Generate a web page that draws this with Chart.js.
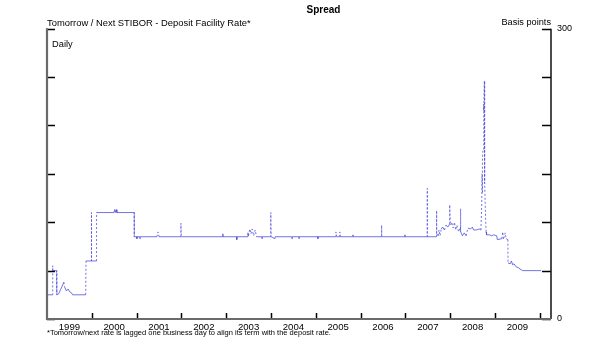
<!DOCTYPE html>
<html>
<head>
<meta charset="utf-8">
<script src="https://cdn.jsdelivr.net/npm/chart.js@4/dist/chart.umd.min.js"></script>
<style>
  html, body { margin: 0; padding: 0; background: #fff; }
  #wrap { position: relative; width: 600px; height: 356px; font-family: "Liberation Sans", Arial, sans-serif; color: #000; }
  #wrap canvas { position: absolute; left: 0; top: 0; }
  .t { position: absolute; white-space: nowrap; line-height: 11px; }
</style>
</head>
<body>
<div id="wrap">
  <canvas id="c" width="600" height="356"></canvas>
  <div class="t" style="left:47px;top:17px;font-size:9.4px;">Tomorrow / Next STIBOR - Deposit Facility Rate*</div>
  <div class="t" style="right:49px;top:17px;font-size:9.2px;">Basis points</div>
  <div class="t" style="left:52px;top:38.5px;font-size:9.3px;">Daily</div>
  <div class="t" style="left:47px;top:328px;font-size:7.5px;line-height:10px;">*Tomorrow/next rate is lagged one business day to align its term with the deposit rate.</div>
</div>
<script>
// ---- data ----
const dates = [
  '1999-01-04','1999-02-12','1999-02-15','1999-02-18','1999-03-19','1999-03-22',
  '1999-04-06','1999-04-20','1999-05-05','1999-05-18','1999-05-25','1999-06-08',
  '1999-06-22','1999-07-06','1999-07-20','1999-07-28','1999-11-12','1999-11-15',
  '1999-12-28','1999-12-29','1999-12-30','2000-02-08','2000-02-09','2000-06-30',
  '2000-07-06','2000-07-11','2000-07-18','2000-07-24','2000-12-12','2000-12-13',
  '2001-01-03','2001-01-04','2001-01-05','2001-01-26','2001-01-29','2001-01-30',
  '2001-06-15','2001-06-24','2001-07-03','2001-12-27','2001-12-28','2001-12-31',
  '2002-12-04','2002-12-05','2002-12-06','2003-03-27','2003-03-28','2003-03-31',
  '2003-06-25','2003-06-27','2003-07-02','2003-07-12','2003-07-22','2003-08-01',
  '2003-08-12','2003-08-25','2003-09-05','2003-10-17','2003-10-20','2003-10-22',
  '2003-12-29','2003-12-30','2003-12-31','2004-01-02','2004-02-02','2004-02-04',
  '2004-06-18','2004-06-21','2004-06-23','2004-08-16','2004-08-17','2004-08-18',
  '2005-01-17','2005-01-18','2005-01-19','2005-06-10','2005-06-14','2005-06-20',
  '2005-07-13','2005-07-16','2005-07-20','2005-10-28','2005-10-31','2005-11-02',
  '2006-06-20','2006-06-21','2006-06-22','2006-12-27','2006-12-28','2006-12-29',
  '2007-06-27','2007-06-28','2007-06-29','2007-09-11','2007-09-12','2007-09-13',
  '2007-09-25','2007-10-02','2007-10-10','2007-10-20','2007-11-01','2007-11-15',
  '2007-11-28','2007-12-12','2007-12-27','2007-12-28','2008-01-02','2008-01-15',
  '2008-01-25','2008-02-05','2008-02-15','2008-02-25','2008-03-10','2008-03-24',
  '2008-03-25','2008-03-27','2008-04-10','2008-04-25','2008-05-10','2008-05-25',
  '2008-06-15','2008-06-30','2008-07-10','2008-08-01','2008-08-25','2008-09-08',
  '2008-09-15','2008-09-17','2008-09-19','2008-09-22','2008-09-25','2008-09-29',
  '2008-09-30','2008-10-01','2008-10-03','2008-10-06','2008-10-07','2008-10-08',
  '2008-10-10','2008-10-15','2008-10-20','2008-10-24','2008-11-15','2008-12-05',
  '2008-12-20','2009-01-15','2009-01-20','2009-02-25','2009-03-05','2009-03-10',
  '2009-03-25','2009-04-02','2009-04-16','2009-04-17','2009-05-05','2009-05-15',
  '2009-05-25','2009-06-05','2009-06-21','2009-07-10','2009-08-01','2009-08-15',
  '2010-01-12'
];
const spreadBp = [
  25, 25, 55, 50, 50, 25,
  26, 30, 34, 38, 33, 29,
  31, 28, 27, 25, 25, 60,
  60, 110, 60, 60, 110, 110,
  113, 110, 113, 110, 110, 85,
  85, 83, 85, 85, 83, 85,
  85, 90, 85, 85, 99, 85,
  85, 88, 85, 85, 82, 85,
  85, 89, 86, 93, 88, 93,
  86, 92, 85, 85, 83, 85,
  85, 110, 100, 85, 83, 85,
  85, 83, 85, 85, 83, 85,
  85, 83, 85, 85, 90, 85,
  85, 90, 85, 85, 87, 85,
  85, 97, 85, 85, 87, 85,
  85, 135, 85, 85, 112, 88,
  86, 92, 86, 93, 95, 92,
  97, 95, 98, 118, 97, 99,
  94, 100, 92, 97, 90, 95,
  114, 90, 86, 89, 86, 94,
  93, 95, 92, 92, 93, 92,
  120, 150, 130, 166, 175, 200,
  222, 205, 215, 246, 222, 180,
  140, 110, 90, 87, 87, 86,
  87, 86, 82, 83, 90, 82,
  89, 83, 82, 58, 57, 60,
  56, 57, 54, 53, 51, 50,
  50
];
const yearLabels = ['1999','2000','2001','2002','2003','2004','2005','2006','2007','2008','2009'];
const yTickValues = [0, 50, 100, 150, 200, 250, 300];
const yShownLabels = [0, 300];

function toYear(s) {
  const [y, m, d] = s.split('-').map(Number);
  const t = Date.UTC(y, m - 1, d), t0 = Date.UTC(y, 0, 1), t1 = Date.UTC(y + 1, 0, 1);
  return y + (t - t0) / (t1 - t0);
}
const points = dates.map((d, i) => ({ x: toYear(d), y: spreadBp[i] }));
const firstYear = Number(yearLabels[0]);
const lastYear = Number(yearLabels[yearLabels.length - 1]);

const FONT = '"Liberation Sans", Arial, sans-serif';

const frame = {
  id: 'frame',
  afterDatasetsDraw(chart) {
    const { ctx, chartArea: a, scales: { x, y } } = chart;
    ctx.save();
    ctx.strokeStyle = '#000';
    ctx.lineWidth = 1.5;
    yTickValues.forEach(v => {
      const py = Math.round(y.getPixelForValue(v)) + 0.5;
      ctx.beginPath(); ctx.moveTo(a.left, py); ctx.lineTo(a.left + 8, py); ctx.stroke();
      ctx.beginPath(); ctx.moveTo(a.right - 9, py); ctx.lineTo(a.right, py); ctx.stroke();
    });
    for (let yr = firstYear + 1; yr <= lastYear + 1; yr++) {
      const px = Math.round(x.getPixelForValue(yr)) + 0.5;
      ctx.beginPath(); ctx.moveTo(px, a.bottom); ctx.lineTo(px, a.bottom - 6); ctx.stroke();
    }
    ctx.strokeStyle = '#111';
    ctx.lineWidth = 1.5;
    ctx.beginPath(); ctx.moveTo(a.right, a.top); ctx.lineTo(a.right, a.bottom); ctx.stroke();
    ctx.strokeStyle = '#6a6a6a';
    ctx.lineWidth = 2.2;
    ctx.beginPath(); ctx.moveTo(a.left, a.top - 0.5); ctx.lineTo(a.left, a.bottom); ctx.lineTo(a.right, a.bottom); ctx.stroke();
    ctx.restore();
  }
};

new Chart(document.getElementById('c'), {
  type: 'line',
  data: {
    datasets: [{
      data: points,
      borderColor: 'rgba(80, 80, 220, 0.8)',
      borderWidth: 1,
      pointRadius: 0,
      tension: 0,
      fill: false,
      segment: {
        borderDash: c => (Math.abs(c.p1.parsed.y - c.p0.parsed.y) > 4 ? [2, 2] : undefined)
      }
    }]
  },
  options: {
    responsive: false,
    animation: false,
    devicePixelRatio: 1,
    layout: { padding: { left: 47, right: 0, top: 0, bottom: 0 } },
    plugins: {
      legend: { display: false },
      tooltip: { enabled: false },
      title: {
        display: true,
        text: 'Spread',
        color: '#000',
        font: { family: FONT, size: 10, weight: 'bold', lineHeight: 1.2 },
        padding: { top: 4.5, bottom: 12.2 }
      }
    },
    scales: {
      x: {
        type: 'linear',
        min: firstYear,
        max: lastYear + 1.25,
        grid: { display: false, drawTicks: false },
        border: { display: false },
        afterBuildTicks: s => { s.ticks = yearLabels.map(l => ({ value: Number(l) + 0.5 })); },
        afterFit: s => { s.height = 37; },
        ticks: {
          autoSkip: false,
          maxRotation: 0,
          padding: 2.5,
          color: '#000',
          font: { family: FONT, size: 9.6 },
          callback: v => String(Math.floor(v))
        }
      },
      y: {
        position: 'right',
        min: 0,
        max: 300,
        grid: { display: false, drawTicks: false },
        border: { display: false },
        afterBuildTicks: s => { s.ticks = yTickValues.map(v => ({ value: v })); },
        afterFit: s => { s.width = 49; },
        ticks: {
          padding: 6,
          color: '#000',
          font: { family: FONT, size: 9 },
          callback: v => (yShownLabels.includes(v) ? String(v) : '')
        }
      }
    }
  },
  plugins: [frame]
});
</script>
</body>
</html>
